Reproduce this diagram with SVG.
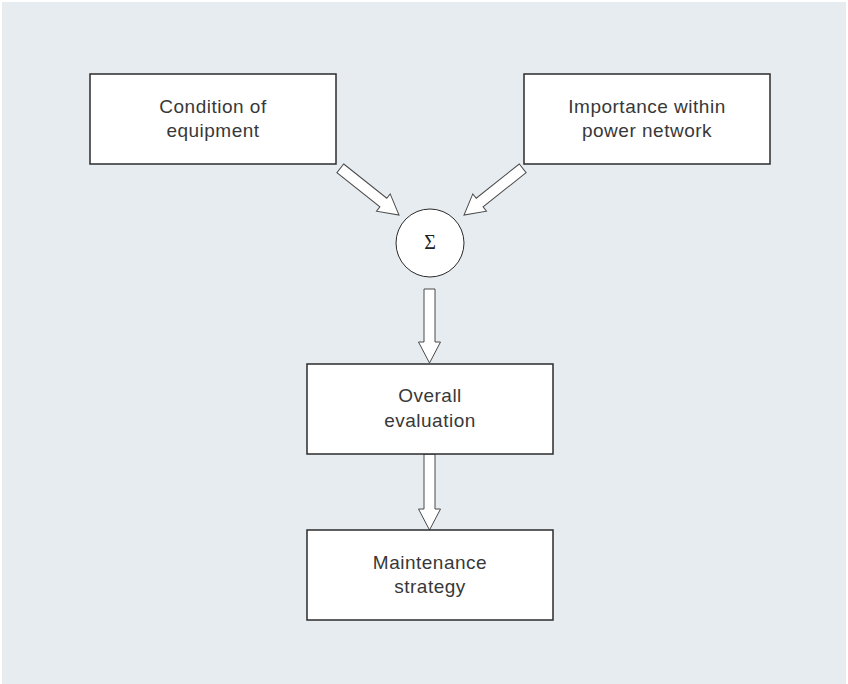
<svg xmlns="http://www.w3.org/2000/svg" width="848" height="684" viewBox="0 0 848 684">
  <style>
    .bg { fill: #e7ecf0; }
    .box { fill: #ffffff; stroke: #2b2b2b; stroke-width: 1.5; }
    .lbl { font-family: "Liberation Sans", Arial, Helvetica, sans-serif; font-size: 19px; letter-spacing: 0.5px; fill: #383838; text-anchor: middle; }
    .sum { font-family: "Liberation Serif", "Times New Roman", serif; font-size: 20px; fill: #222222; text-anchor: middle; }
    .arrow { fill: #ffffff; stroke: #4a4a4a; stroke-width: 1; stroke-linejoin: miter; }
  </style>
  <rect class="bg" x="2" y="2" width="844" height="682"/>

  <g id="connectors">
    <path class="arrow" transform="translate(340.3,168.3) rotate(38.5)" d="M0,-5.5 L55,-5.5 L55,-11 L75,0 L55,11 L55,5.5 L0,5.5 Z"/>
    <path class="arrow" transform="translate(522.7,168.3) rotate(141.5)" d="M0,-5.5 L55,-5.5 L55,-11 L75,0 L55,11 L55,5.5 L0,5.5 Z"/>
    <path class="arrow" transform="translate(429.5,289) rotate(90)" d="M0,-5.5 L53,-5.5 L53,-11 L74,0 L53,11 L53,5.5 L0,5.5 Z"/>
    <path class="arrow" transform="translate(429.5,454) rotate(90)" d="M0,-5.5 L55,-5.5 L55,-11 L76,0 L55,11 L55,5.5 L0,5.5 Z"/>
  </g>

  <g id="condition">
    <rect class="box" x="90" y="74" width="246" height="90"/>
    <text class="lbl" x="213" y="112.5">Condition of</text>
    <text class="lbl" x="213" y="136.5">equipment</text>
  </g>

  <g id="importance">
    <rect class="box" x="524" y="74" width="246" height="90"/>
    <text class="lbl" x="647" y="112.5">Importance within</text>
    <text class="lbl" x="647" y="136.5">power network</text>
  </g>

  <g id="sum">
    <circle cx="430" cy="243" r="34" fill="#ffffff" stroke="#2b2b2b" stroke-width="1"/>
    <text class="sum" x="430" y="249">Σ</text>
  </g>

  <g id="overall">
    <rect class="box" x="307" y="364" width="246" height="90"/>
    <text class="lbl" x="430" y="402">Overall</text>
    <text class="lbl" x="430" y="426.5">evaluation</text>
  </g>

  <g id="maintenance">
    <rect class="box" x="307" y="530" width="246" height="90"/>
    <text class="lbl" x="430" y="568.5">Maintenance</text>
    <text class="lbl" x="430" y="592.5">strategy</text>
  </g>
</svg>
